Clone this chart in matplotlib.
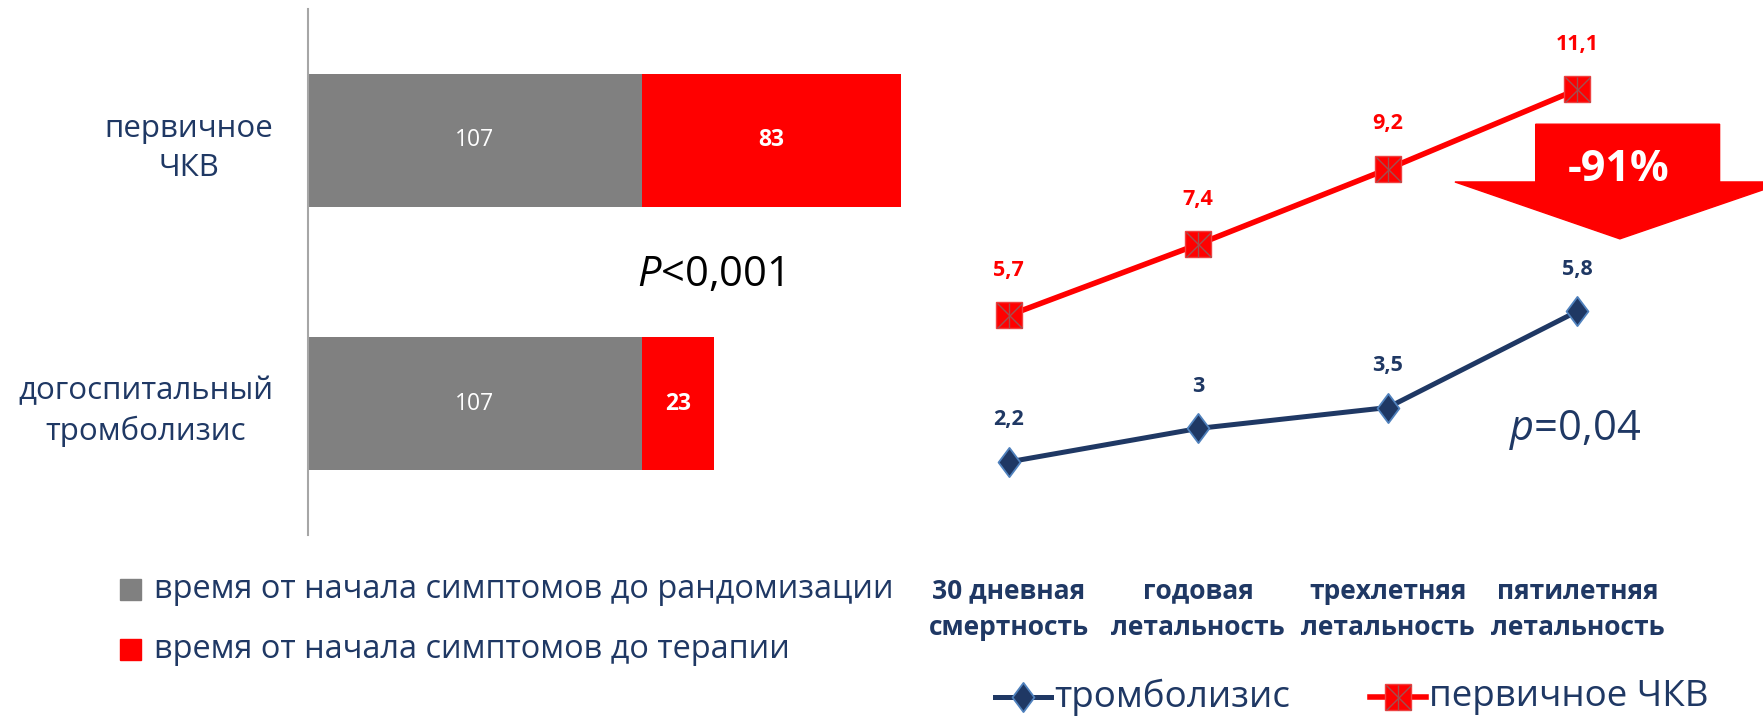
import numpy as np
import matplotlib
matplotlib.use('Agg')
import matplotlib.pyplot as plt
from matplotlib.patches import Rectangle, Polygon
from matplotlib.lines import Line2D
from matplotlib.path import Path

plt.rcParams['font.family'] = ['Open Sans', 'DejaVu Sans']
plt.rcParams['mathtext.fontset'] = 'custom'
plt.rcParams['mathtext.rm'] = 'Open Sans'
plt.rcParams['mathtext.it'] = 'Open Sans:italic'

NAVY = '#1F3864'
RED = '#FF0000'
GREY = '#808080'

# time from symptom onset, minutes
groups = ['догоспитальный\nтромболизис', 'первичное\nЧКВ']
to_random = [107, 107]
to_therapy = [23, 83]
bar_legend = ['время от начала симптомов до рандомизации',
              'время от начала симптомов до терапии']
bar_p = 'P<0,001'

# mortality, %
periods = ['30 дневная\nсмертность', 'годовая\nлетальность',
           'трехлетняя\nлетальность', 'пятилетняя\nлетальность']
lysis = [2.2, 3.0, 3.5, 5.8]
pci = [5.7, 7.4, 9.2, 11.1]
line_legend = ['тромболизис', 'первичное ЧКВ']
reduction = '-91%'
line_p = 'p=0,04'


def fmt(v):
    return f'{v:g}'.replace('.', ',')


W, H = 1763, 717
fig = plt.figure(figsize=(W / 100, H / 100), dpi=100)


def box(x0, y0, x1, y1):
    # pixel box (top-left origin) -> figure fraction rect
    return [x0 / W, 1 - y1 / H, (x1 - x0) / W, (y1 - y0) / H]


def fx(px):
    return px / W


def fy(py):
    return 1 - py / H


# ---- left: stacked bars ----
ax1 = fig.add_axes(box(308, 9, 932, 535))
y = np.arange(len(groups))
bh = 0.507
ax1.barh(y, to_random, height=bh, color=GREY)
ax1.barh(y, to_therapy, left=to_random, height=bh, color=RED)
for yi, a, b in zip(y, to_random, to_therapy):
    ax1.text(a / 2, yi, str(a), color='white', ha='center', va='center', fontsize=16.5)
    ax1.text(a + b / 2, yi, str(b), color='white', ha='center', va='center',
             fontsize=16.5, fontweight='bold')
ax1.set_xlim(0, 200)
ax1.set_ylim(-0.5, 1.5)
ax1.set_yticks(y, groups, fontsize=22.5, color=NAVY, linespacing=1.4)
for lab in ax1.get_yticklabels():
    lab.set_multialignment('center')
ax1.tick_params(axis='y', length=0, pad=25)
ax1.set_xticks([])
for s in ['top', 'right', 'bottom']:
    ax1.spines[s].set_visible(False)
ax1.spines['left'].set_color('#A6A6A6')
ax1.spines['left'].set_linewidth(1.5)
ax1.text(129, 0.49, '$\\it{P}$' + bar_p[1:], ha='center', va='center',
         fontsize=30, color='black')

# legend for the bars
for i, (lab, col) in enumerate(zip(bar_legend, [GREY, RED])):
    yc = 589 + 60 * i
    fig.add_artist(Rectangle((fx(120), fy(yc + 10.5)), 21 / W, 21 / H,
                             transform=fig.transFigure, color=col))
    fig.text(fx(154), fy(yc), lab, ha='left', va='center', fontsize=23.4, color=NAVY)

# ---- right: mortality lines ----
ax2 = fig.add_axes(box(913.8, 51.8, 1672.2, 554))
x = np.arange(len(periods))
diamond = Path([(0, 1), (0.75, 0), (0, -1), (-0.75, 0), (0, 1)],
               [Path.MOVETO, Path.LINETO, Path.LINETO, Path.LINETO, Path.CLOSEPOLY])
lysis_style = dict(color=NAVY, lw=3.6, marker=diamond, ms=21, mfc=NAVY,
                   mec='#4F81BD', mew=1.3)
pci_style = dict(color=RED, lw=4, marker='s', ms=19, mfc=RED, mec='#F04040', mew=1)
ax2.plot(x, lysis, zorder=3, **lysis_style)
ax2.plot(x, pci, zorder=3, **pci_style)
for m in ['x', '|']:
    ax2.plot(x, pci, ls='none', marker=m, ms=18, mec='#A05050', mew=1, zorder=4)

for xi, v in zip(x, pci):
    ax2.annotate(fmt(v), (xi, v), xytext=(0, 45), textcoords='offset pixels',
                 ha='center', va='center', color=RED, fontsize=15.5, fontweight='bold')
for xi, v in zip(x, lysis):
    ax2.annotate(fmt(v), (xi, v), xytext=(0, 42), textcoords='offset pixels',
                 ha='center', va='center', color=NAVY, fontsize=15.5, fontweight='bold')

ax2.set_xlim(-0.5, 3.5)
ax2.set_ylim(0, 12)
ax2.set_xticks(x, periods, fontsize=19, fontweight='bold', color=NAVY, linespacing=1.45)
ax2.tick_params(axis='x', length=0, pad=17)
ax2.set_yticks([])
for s in ax2.spines.values():
    s.set_visible(False)

# down arrow with the relative reduction
arrow = [(2.78, 10.27), (3.75, 10.27), (3.75, 8.89), (4.10, 8.89), (3.224, 7.53),
         (2.354, 8.89), (2.78, 8.89)]
ax2.add_patch(Polygon(arrow, closed=True, color=RED, clip_on=False, zorder=2))
ax2.text(3.22, 9.18, reduction, ha='center', va='center', color='white',
         fontsize=31, fontweight='bold', zorder=5)
ax2.text(2.987, 2.96, '$\\it{p}$' + line_p[1:], ha='center', va='center',
         fontsize=30, color=NAVY)

# legend for the lines
for lab, style, hx in zip(line_legend, [lysis_style, pci_style], [995, 1370]):
    yl = fy(697)
    fig.add_artist(Line2D([fx(hx), fx(hx + 56)], [yl, yl], transform=fig.transFigure,
                          color=style['color'], lw=style['lw']))
    fig.add_artist(Line2D([fx(hx + 28)], [yl], transform=fig.transFigure, ls='none',
                          marker=style['marker'], ms=style['ms'], mfc=style['mfc'],
                          mec=style['mec'], mew=style['mew']))
    if style is pci_style:
        for m in ['x', '|']:
            fig.add_artist(Line2D([fx(hx + 28)], [yl], transform=fig.transFigure,
                                  ls='none', marker=m, ms=18, mec='#A05050', mew=1))
    fig.text(fx(hx + 59), yl, lab, ha='left', va='center', fontsize=26.5, color=NAVY)

fig.savefig('out.png', dpi=100)
